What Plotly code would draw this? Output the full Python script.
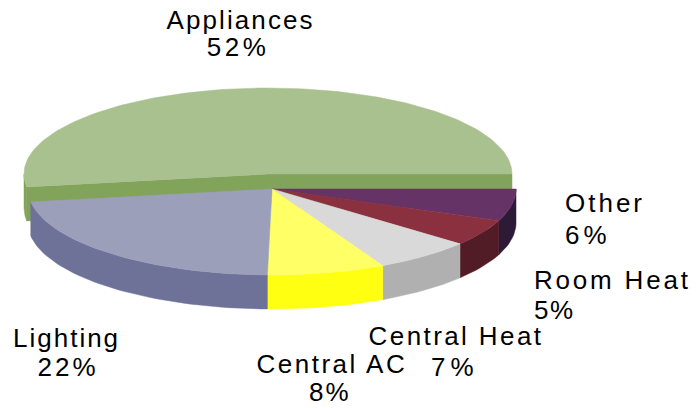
import json
import math
import plotly.graph_objects as go

categories = ["Other", "Room Heat", "Central Heat", "Central AC", "Lighting", "Appliances"]
values = [6.0, 5.0, 6.5, 7.8, 22.3, 52.4]
percent_labels = ["6%", "5%", "7%", "8%", "22%", "52%"]
top_colors = ["#663366", "#8a303f", "#d9d9d9", "#ffff66", "#9c9fba", "#a8c18f"]
side_colors = ["#2c1a36", "#521c27", "#b0b0b0", "#ffff11", "#6e7299", "#82a35a"]

CX, CY, RX, RY, DEPTH = 272, 189, 244, 86, 34
EXPLODED = {"Appliances": (-4, -15)}

# text placement: name x, name y, pct x, pct y, anchor, name spacing, pct spacing
label_pos = {
    "Appliances": (240, 20, 238, 47, "center", 2.1, 3.5),
    "Other": (563, 203, 563, 235, "left", 3.0, 4.0),
    "Room Heat": (532, 280, 532, 310, "left", 2.8, 1.5),
    "Central Heat": (456, 336, 455, 367, "center", 2.4, 5.0),
    "Central AC": (332, 364, 330, 392, "center", 2.5, 2.0),
    "Lighting": (66, 338, 68, 367, "center", 2.0, 3.0),
}


def arc(cx, cy, a0, a1, dy=0):
    n = max(2, int(abs(a1 - a0) / 1.5))
    return [(cx + RX * math.cos(math.radians(a0 + (a1 - a0) * i / n)),
             cy + dy + RY * math.sin(math.radians(a0 + (a1 - a0) * i / n))) for i in range(n + 1)]


def poly(fig, pts, color):
    fig.add_trace(go.Scatter(x=[p[0] for p in pts] + [pts[0][0]], y=[p[1] for p in pts] + [pts[0][1]],
                             mode="lines", fill="toself", fillcolor=color,
                             line=dict(color=color, width=0.5), hoverinfo="skip", showlegend=False))


fig = go.Figure()
total = sum(values)
angles = []
a = 0.0
for v in values:
    angles.append((a, a + v / total * 360))
    a += v / total * 360

# exploded slice goes first, everything else is drawn over it
order = [5, 0, 1, 2, 3, 4]
for i in order:
    a0, a1 = angles[i]
    dx, dy = EXPLODED.get(categories[i], (0, 0))
    cx, cy = CX + dx, CY + dy
    if a1 > 180 and a0 > 90:
        # cut faces seen from the front, plus the short outer wall on the left
        edge = arc(cx, cy, a0, 180)
        face = [(cx + RX * math.cos(math.radians(a0)), cy + RY * math.sin(math.radians(a0))), (cx, cy), (cx + RX, cy)]
        poly(fig, face + [(p[0], p[1] + DEPTH) for p in reversed(face)], side_colors[i])
        poly(fig, edge + [(p[0], p[1] + DEPTH) for p in reversed(edge)], side_colors[i])
    else:
        edge = arc(cx, cy, a0, a1)
        poly(fig, edge + [(p[0], p[1] + DEPTH) for p in reversed(edge)], side_colors[i])
    poly(fig, [(cx, cy)] + arc(cx, cy, a0, a1), top_colors[i])

spacing = {}
for name, pct in zip(categories, percent_labels):
    nx, ny, px, py, align, ns, ps = label_pos[name]
    spacing[name] = ns
    spacing[pct] = ps
    for text, x, y in ((name, nx, ny), (pct, px, py)):
        fig.add_annotation(x=x, y=y, xref="x", yref="y", text=text, showarrow=False,
                           align=align, xanchor=align, yanchor="middle",
                           font=dict(family="Liberation Sans", size=26, color="#000000"))

fig.update_layout(width=696, height=408, margin=dict(l=0, r=0, t=0, b=0),
                  paper_bgcolor="white", plot_bgcolor="white", showlegend=False,
                  xaxis=dict(range=[0, 696], visible=False, fixedrange=True),
                  yaxis=dict(range=[408, 0], visible=False, fixedrange=True))

post = """
document.body.style.margin = '0';
var sp = %s;
document.querySelectorAll('.annotation-text').forEach(function (t) {
  t.style.letterSpacing = sp[t.textContent] + 'px';
});
""" % json.dumps(spacing)
fig.write_html("out.html", post_script=post, config={"displayModeBar": False})
